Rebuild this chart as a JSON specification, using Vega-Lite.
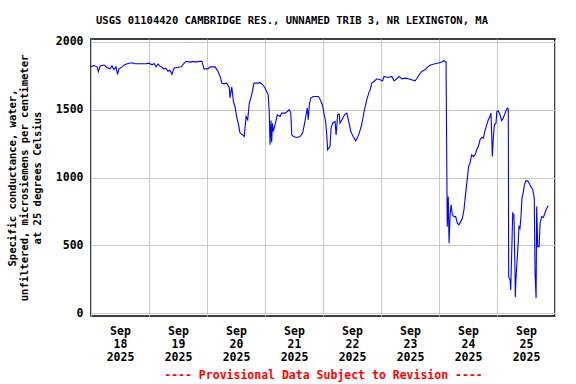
{
  "$schema": "https://vega.github.io/schema/vega-lite/v6.json",
  "width": 464,
  "height": 277,
  "autosize": "none",
  "padding": {"left": 91, "top": 39, "right": 21, "bottom": 68},
  "background": "white",
  "config": {
    "view": {"stroke": "black", "strokeWidth": 1.5},
    "font": "DejaVu Sans Mono"
  },
  "title": {
    "text": "USGS 01104420 CAMBRIDGE RES., UNNAMED TRIB 3, NR LEXINGTON, MA",
    "font": "DejaVu Sans Mono",
    "fontSize": 10.5,
    "fontWeight": "bold",
    "color": "black",
    "anchor": "middle",
    "dx": -31,
    "offset": 9
  },
  "data": {
    "values": [
      {"t": "2025-09-18T00:00", "v": 1816},
      {"t": "2025-09-18T01:15", "v": 1825},
      {"t": "2025-09-18T02:30", "v": 1815},
      {"t": "2025-09-18T03:05", "v": 1780},
      {"t": "2025-09-18T03:45", "v": 1822},
      {"t": "2025-09-18T05:25", "v": 1828},
      {"t": "2025-09-18T06:35", "v": 1810},
      {"t": "2025-09-18T07:50", "v": 1800},
      {"t": "2025-09-18T08:40", "v": 1822},
      {"t": "2025-09-18T09:30", "v": 1795},
      {"t": "2025-09-18T10:20", "v": 1815},
      {"t": "2025-09-18T11:00", "v": 1760},
      {"t": "2025-09-18T11:35", "v": 1800},
      {"t": "2025-09-18T12:50", "v": 1815},
      {"t": "2025-09-18T14:05", "v": 1832},
      {"t": "2025-09-18T15:20", "v": 1840},
      {"t": "2025-09-18T17:00", "v": 1845},
      {"t": "2025-09-18T18:10", "v": 1838},
      {"t": "2025-09-18T20:15", "v": 1838},
      {"t": "2025-09-18T22:45", "v": 1838},
      {"t": "2025-09-19T00:00", "v": 1842},
      {"t": "2025-09-19T01:15", "v": 1830},
      {"t": "2025-09-19T02:05", "v": 1840},
      {"t": "2025-09-19T02:55", "v": 1815},
      {"t": "2025-09-19T03:45", "v": 1835},
      {"t": "2025-09-19T04:35", "v": 1820},
      {"t": "2025-09-19T05:25", "v": 1810},
      {"t": "2025-09-19T06:10", "v": 1800},
      {"t": "2025-09-19T07:00", "v": 1803},
      {"t": "2025-09-19T07:50", "v": 1782},
      {"t": "2025-09-19T08:40", "v": 1790},
      {"t": "2025-09-19T09:30", "v": 1760},
      {"t": "2025-09-19T10:20", "v": 1805},
      {"t": "2025-09-19T11:35", "v": 1810},
      {"t": "2025-09-19T13:15", "v": 1815},
      {"t": "2025-09-19T14:30", "v": 1840},
      {"t": "2025-09-19T15:20", "v": 1855},
      {"t": "2025-09-19T17:00", "v": 1850},
      {"t": "2025-09-19T18:15", "v": 1855},
      {"t": "2025-09-19T19:25", "v": 1850},
      {"t": "2025-09-19T20:40", "v": 1855},
      {"t": "2025-09-19T21:55", "v": 1855},
      {"t": "2025-09-19T22:45", "v": 1800},
      {"t": "2025-09-20T00:25", "v": 1800},
      {"t": "2025-09-20T01:15", "v": 1815},
      {"t": "2025-09-20T03:20", "v": 1815},
      {"t": "2025-09-20T04:35", "v": 1781},
      {"t": "2025-09-20T05:40", "v": 1732},
      {"t": "2025-09-20T06:05", "v": 1695},
      {"t": "2025-09-20T07:00", "v": 1690},
      {"t": "2025-09-20T08:10", "v": 1695},
      {"t": "2025-09-20T09:15", "v": 1661},
      {"t": "2025-09-20T09:30", "v": 1587},
      {"t": "2025-09-20T10:15", "v": 1668},
      {"t": "2025-09-20T10:55", "v": 1560},
      {"t": "2025-09-20T11:35", "v": 1523},
      {"t": "2025-09-20T12:15", "v": 1449},
      {"t": "2025-09-20T12:55", "v": 1400},
      {"t": "2025-09-20T13:40", "v": 1329},
      {"t": "2025-09-20T14:45", "v": 1314},
      {"t": "2025-09-20T15:25", "v": 1302},
      {"t": "2025-09-20T16:10", "v": 1449},
      {"t": "2025-09-20T16:50", "v": 1425},
      {"t": "2025-09-20T17:30", "v": 1548},
      {"t": "2025-09-20T18:30", "v": 1609},
      {"t": "2025-09-20T19:25", "v": 1695},
      {"t": "2025-09-20T21:15", "v": 1695},
      {"t": "2025-09-20T21:55", "v": 1700},
      {"t": "2025-09-20T23:05", "v": 1683},
      {"t": "2025-09-21T00:00", "v": 1659},
      {"t": "2025-09-21T01:20", "v": 1609},
      {"t": "2025-09-21T01:45", "v": 1486},
      {"t": "2025-09-21T02:05", "v": 1241},
      {"t": "2025-09-21T02:30", "v": 1420},
      {"t": "2025-09-21T02:45", "v": 1260},
      {"t": "2025-09-21T03:05", "v": 1400},
      {"t": "2025-09-21T03:25", "v": 1339},
      {"t": "2025-09-21T04:10", "v": 1388},
      {"t": "2025-09-21T05:05", "v": 1462},
      {"t": "2025-09-21T06:15", "v": 1450},
      {"t": "2025-09-21T06:55", "v": 1474},
      {"t": "2025-09-21T08:15", "v": 1474},
      {"t": "2025-09-21T09:15", "v": 1486},
      {"t": "2025-09-21T10:05", "v": 1499},
      {"t": "2025-09-21T10:40", "v": 1474},
      {"t": "2025-09-21T11:05", "v": 1314},
      {"t": "2025-09-21T11:45", "v": 1302},
      {"t": "2025-09-21T13:05", "v": 1295},
      {"t": "2025-09-21T14:30", "v": 1302},
      {"t": "2025-09-21T15:35", "v": 1327},
      {"t": "2025-09-21T16:15", "v": 1388},
      {"t": "2025-09-21T17:00", "v": 1462},
      {"t": "2025-09-21T17:30", "v": 1511},
      {"t": "2025-09-21T17:55", "v": 1425},
      {"t": "2025-09-21T18:20", "v": 1536},
      {"t": "2025-09-21T18:55", "v": 1585},
      {"t": "2025-09-21T20:00", "v": 1597},
      {"t": "2025-09-21T22:05", "v": 1597},
      {"t": "2025-09-21T23:05", "v": 1565},
      {"t": "2025-09-21T23:55", "v": 1523},
      {"t": "2025-09-22T00:30", "v": 1462},
      {"t": "2025-09-22T01:05", "v": 1413},
      {"t": "2025-09-22T01:30", "v": 1327},
      {"t": "2025-09-22T01:55", "v": 1204},
      {"t": "2025-09-22T02:55", "v": 1229},
      {"t": "2025-09-22T03:20", "v": 1364},
      {"t": "2025-09-22T04:00", "v": 1400},
      {"t": "2025-09-22T05:00", "v": 1413},
      {"t": "2025-09-22T05:25", "v": 1314},
      {"t": "2025-09-22T06:05", "v": 1462},
      {"t": "2025-09-22T06:45", "v": 1466},
      {"t": "2025-09-22T07:00", "v": 1400},
      {"t": "2025-09-22T08:10", "v": 1437},
      {"t": "2025-09-22T09:05", "v": 1467},
      {"t": "2025-09-22T09:50", "v": 1474},
      {"t": "2025-09-22T10:30", "v": 1425},
      {"t": "2025-09-22T11:30", "v": 1339},
      {"t": "2025-09-22T12:30", "v": 1302},
      {"t": "2025-09-22T13:30", "v": 1270},
      {"t": "2025-09-22T14:10", "v": 1290},
      {"t": "2025-09-22T15:00", "v": 1327},
      {"t": "2025-09-22T16:00", "v": 1388},
      {"t": "2025-09-22T17:00", "v": 1486},
      {"t": "2025-09-22T18:05", "v": 1572},
      {"t": "2025-09-22T19:10", "v": 1634},
      {"t": "2025-09-22T19:25", "v": 1640},
      {"t": "2025-09-22T20:10", "v": 1695},
      {"t": "2025-09-22T21:05", "v": 1707},
      {"t": "2025-09-22T22:15", "v": 1727},
      {"t": "2025-09-22T23:35", "v": 1720},
      {"t": "2025-09-23T00:40", "v": 1712},
      {"t": "2025-09-23T01:15", "v": 1744},
      {"t": "2025-09-23T03:00", "v": 1737},
      {"t": "2025-09-23T04:25", "v": 1744},
      {"t": "2025-09-23T05:25", "v": 1712},
      {"t": "2025-09-23T06:30", "v": 1727},
      {"t": "2025-09-23T07:35", "v": 1744},
      {"t": "2025-09-23T08:35", "v": 1727},
      {"t": "2025-09-23T09:55", "v": 1732},
      {"t": "2025-09-23T11:20", "v": 1727},
      {"t": "2025-09-23T12:40", "v": 1720},
      {"t": "2025-09-23T14:05", "v": 1712},
      {"t": "2025-09-23T14:45", "v": 1727},
      {"t": "2025-09-23T15:50", "v": 1757},
      {"t": "2025-09-23T16:50", "v": 1781},
      {"t": "2025-09-23T18:15", "v": 1794},
      {"t": "2025-09-23T19:10", "v": 1811},
      {"t": "2025-09-23T20:15", "v": 1826},
      {"t": "2025-09-23T21:55", "v": 1836},
      {"t": "2025-09-23T23:45", "v": 1843},
      {"t": "2025-09-24T01:05", "v": 1850},
      {"t": "2025-09-24T02:05", "v": 1860},
      {"t": "2025-09-24T02:55", "v": 1850},
      {"t": "2025-09-24T03:10", "v": 1241},
      {"t": "2025-09-24T03:25", "v": 638},
      {"t": "2025-09-24T03:50", "v": 860},
      {"t": "2025-09-24T04:10", "v": 516},
      {"t": "2025-09-24T04:35", "v": 725},
      {"t": "2025-09-24T05:00", "v": 798},
      {"t": "2025-09-24T05:30", "v": 725},
      {"t": "2025-09-24T06:15", "v": 712},
      {"t": "2025-09-24T06:55", "v": 712},
      {"t": "2025-09-24T07:35", "v": 663},
      {"t": "2025-09-24T08:15", "v": 651},
      {"t": "2025-09-24T09:00", "v": 675},
      {"t": "2025-09-24T09:40", "v": 700},
      {"t": "2025-09-24T10:20", "v": 761},
      {"t": "2025-09-24T11:05", "v": 896},
      {"t": "2025-09-24T11:45", "v": 995},
      {"t": "2025-09-24T12:15", "v": 1081},
      {"t": "2025-09-24T12:50", "v": 1106},
      {"t": "2025-09-24T13:30", "v": 1167},
      {"t": "2025-09-24T14:10", "v": 1155},
      {"t": "2025-09-24T14:55", "v": 1167},
      {"t": "2025-09-24T15:35", "v": 1204},
      {"t": "2025-09-24T16:15", "v": 1228},
      {"t": "2025-09-24T17:00", "v": 1278},
      {"t": "2025-09-24T17:40", "v": 1295},
      {"t": "2025-09-24T18:20", "v": 1290},
      {"t": "2025-09-24T19:00", "v": 1344},
      {"t": "2025-09-24T19:45", "v": 1388},
      {"t": "2025-09-24T20:25", "v": 1425},
      {"t": "2025-09-24T21:05", "v": 1449},
      {"t": "2025-09-24T21:30", "v": 1474},
      {"t": "2025-09-24T21:50", "v": 1295},
      {"t": "2025-09-24T22:05", "v": 1155},
      {"t": "2025-09-24T22:30", "v": 1302},
      {"t": "2025-09-24T22:55", "v": 1388},
      {"t": "2025-09-24T23:35", "v": 1400},
      {"t": "2025-09-24T23:55", "v": 1486},
      {"t": "2025-09-25T00:30", "v": 1491},
      {"t": "2025-09-25T01:15", "v": 1462},
      {"t": "2025-09-25T01:55", "v": 1418},
      {"t": "2025-09-25T02:35", "v": 1437},
      {"t": "2025-09-25T03:20", "v": 1474},
      {"t": "2025-09-25T04:15", "v": 1511},
      {"t": "2025-09-25T04:40", "v": 1506},
      {"t": "2025-09-25T04:50", "v": 270},
      {"t": "2025-09-25T05:25", "v": 245},
      {"t": "2025-09-25T05:40", "v": 172},
      {"t": "2025-09-25T06:05", "v": 442},
      {"t": "2025-09-25T06:30", "v": 737},
      {"t": "2025-09-25T07:00", "v": 725},
      {"t": "2025-09-25T07:25", "v": 344},
      {"t": "2025-09-25T07:35", "v": 120},
      {"t": "2025-09-25T07:45", "v": 221},
      {"t": "2025-09-25T08:10", "v": 344},
      {"t": "2025-09-25T08:50", "v": 540},
      {"t": "2025-09-25T09:05", "v": 638},
      {"t": "2025-09-25T09:30", "v": 625},
      {"t": "2025-09-25T09:55", "v": 712},
      {"t": "2025-09-25T10:20", "v": 848},
      {"t": "2025-09-25T10:55", "v": 896},
      {"t": "2025-09-25T11:20", "v": 946},
      {"t": "2025-09-25T11:55", "v": 975},
      {"t": "2025-09-25T12:40", "v": 975},
      {"t": "2025-09-25T13:20", "v": 958},
      {"t": "2025-09-25T14:05", "v": 929},
      {"t": "2025-09-25T14:45", "v": 914},
      {"t": "2025-09-25T15:25", "v": 848},
      {"t": "2025-09-25T15:45", "v": 295},
      {"t": "2025-09-25T16:10", "v": 110},
      {"t": "2025-09-25T16:25", "v": 786},
      {"t": "2025-09-25T16:50", "v": 491},
      {"t": "2025-09-25T17:25", "v": 491},
      {"t": "2025-09-25T17:50", "v": 663},
      {"t": "2025-09-25T18:30", "v": 712},
      {"t": "2025-09-25T19:10", "v": 705},
      {"t": "2025-09-25T19:50", "v": 737},
      {"t": "2025-09-25T20:35", "v": 774},
      {"t": "2025-09-25T21:15", "v": 791}
    ]
  },
  "mark": {"type": "line", "color": "#0000ff", "strokeWidth": 1.1, "interpolate": "linear", "clip": true},
  "encoding": {
    "x": {
      "field": "t",
      "type": "temporal",
      "scale": {
        "domain": [
          {"year": 2025, "month": 9, "date": 18},
          {"year": 2025, "month": 9, "date": 26}
        ],
        "nice": false
      },
      "axis": {
        "title": "---- Provisional Data Subject to Revision ----",
        "titleColor": "#ff0000",
        "titleFont": "DejaVu Sans Mono",
        "titleFontSize": 11.5,
        "titleFontWeight": "bold",
        "titlePadding": 7,
        "tickCount": {"interval": "day", "step": 1},
        "ticks": false,
        "domain": false,
        "grid": true,
        "gridColor": "#c8c8c8",
        "gridWidth": 1,
        "labelOffset": 29,
        "labelPadding": 9,
        "labelFlush": false,
        "labelOverlap": false,
        "labelFont": "DejaVu Sans Mono",
        "labelFontSize": 11.5,
        "labelFontWeight": "bold",
        "labelColor": "black",
        "labelLineHeight": 13,
        "labelBaseline": "top",
        "labelExpr": "timeFormat(datum.value, '%d') == '26' ? '' : [timeFormat(datum.value, '%b'), timeFormat(datum.value, '%d'), timeFormat(datum.value, '%Y')]"
      }
    },
    "y": {
      "field": "v",
      "type": "quantitative",
      "scale": {"domain": [-20, 2020], "nice": false, "zero": false},
      "axis": {
        "title": ["Specific conductance, water,", "unfiltered, microsiemens per centimeter", "at 25 degrees Celsius"],
        "titleFont": "DejaVu Sans Mono",
        "titleFontSize": 10.5,
        "titleFontWeight": "bold",
        "titleColor": "black",
        "titleLineHeight": 12.5,
        "titlePadding": 13,
        "values": [0, 500, 1000, 1500, 2000],
        "format": "d",
        "ticks": false,
        "domain": false,
        "grid": true,
        "gridColor": "#c8c8c8",
        "gridWidth": 1,
        "labelPadding": 8,
        "labelFont": "DejaVu Sans Mono",
        "labelFontSize": 11.5,
        "labelFontWeight": "bold",
        "labelColor": "black"
      }
    }
  }
}
